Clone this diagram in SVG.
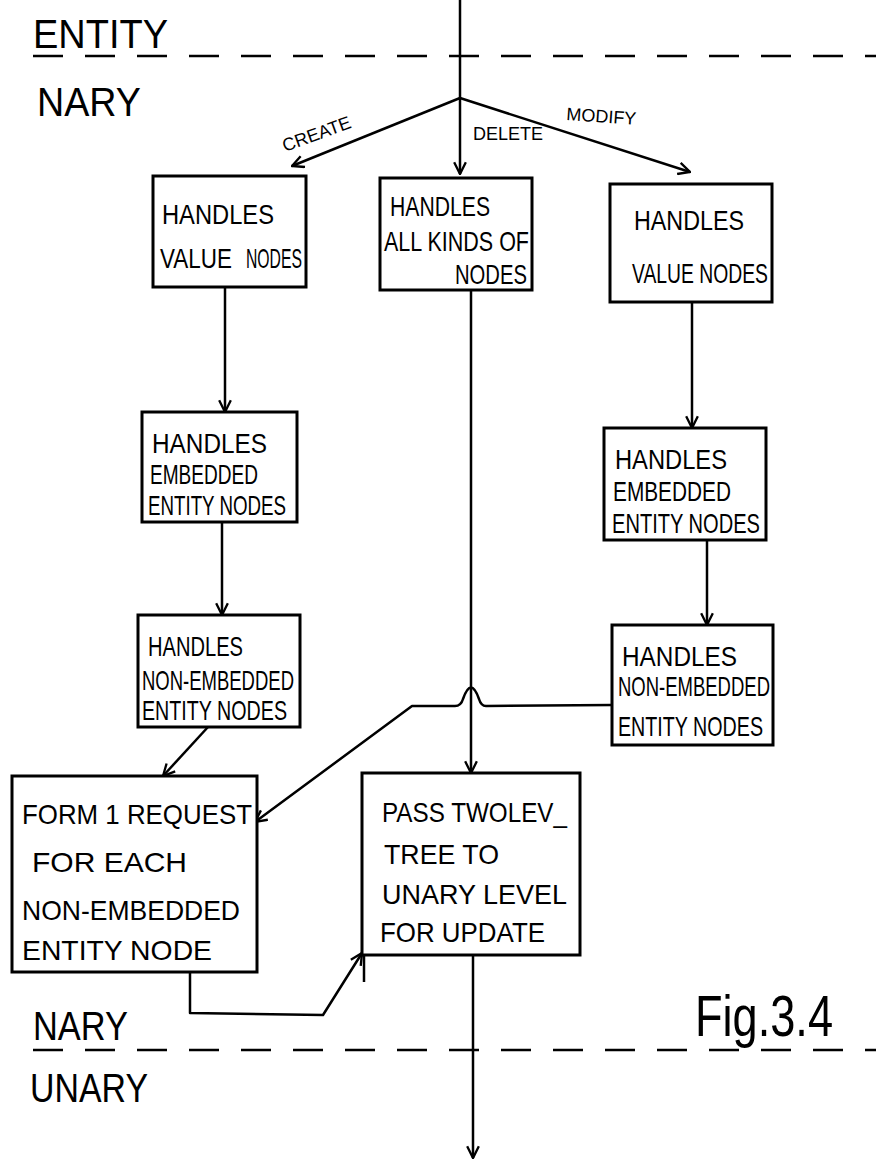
<svg xmlns="http://www.w3.org/2000/svg" width="876" height="1162" viewBox="0 0 876 1162">
<style>
.box{fill:#fff;stroke:#000;stroke-width:3}
.ln{fill:none;stroke:#000;stroke-width:2.5;stroke-linejoin:round}
.dash{fill:none;stroke:#000;stroke-width:2.5;stroke-dasharray:30 22}
.t{font-family:"Liberation Sans",Arial,sans-serif;font-size:28px;fill:#000}
.s{font-family:"Liberation Sans",Arial,sans-serif;font-size:18px;fill:#000}
.big{font-family:"Liberation Sans",Arial,sans-serif;font-size:40px;fill:#000}
</style>
<defs>
<marker id="ah" viewBox="0 0 12 12" refX="11" refY="6" markerWidth="14" markerHeight="14" markerUnits="userSpaceOnUse" orient="auto">
<path d="M1,1 L11,6 L1,11" fill="none" stroke="#000" stroke-width="2"/>
</marker>
</defs>
<g id="lanes">
<text class="big" x="33" y="48" textLength="135" lengthAdjust="spacingAndGlyphs">ENTITY</text>
<line class="dash" x1="33" y1="56" x2="876" y2="56"/>
<text class="big" x="37" y="116" textLength="104" lengthAdjust="spacingAndGlyphs">NARY</text>
<text class="big" x="33" y="1040" textLength="95" lengthAdjust="spacingAndGlyphs">NARY</text>
<line class="dash" x1="33" y1="1050" x2="876" y2="1050"/>
<text class="big" x="30" y="1102" textLength="118" lengthAdjust="spacingAndGlyphs">UNARY</text>
<text id="fig" x="695" y="1036" font-family="Liberation Sans, Arial, sans-serif" font-size="58" textLength="138" lengthAdjust="spacingAndGlyphs">Fig.3.4</text>
</g>
<g id="connectors">
<line class="ln" x1="460" y1="0" x2="460" y2="98"/>
<line class="ln" x1="460" y1="98" x2="292" y2="166" marker-end="url(#ah)"/>
<line class="ln" x1="460" y1="98" x2="460" y2="174" marker-end="url(#ah)"/>
<line class="ln" x1="460" y1="98" x2="690" y2="172" marker-end="url(#ah)"/>
<line class="ln" x1="225" y1="287" x2="225" y2="412" marker-end="url(#ah)"/>
<line class="ln" x1="692" y1="302" x2="692" y2="428" marker-end="url(#ah)"/>
<line class="ln" x1="222" y1="522" x2="222" y2="615" marker-end="url(#ah)"/>
<line class="ln" x1="707" y1="540" x2="707" y2="625" marker-end="url(#ah)"/>
<line class="ln" x1="471" y1="290" x2="471" y2="773" marker-end="url(#ah)"/>
<line class="ln" x1="208" y1="727" x2="163" y2="776" marker-end="url(#ah)"/>
<path class="ln" d="M612,705 L486,706 Q481,706 479,699 Q471,676 463,699 Q461,706 455,706 L412,706 L255,822" marker-end="url(#ah)"/>
<path class="ln" d="M190,972 L190,1013 L323,1015 L362,953" marker-end="url(#ah)"/>
<line class="ln" x1="364" y1="953" x2="364" y2="982"/>
<line class="ln" x1="473" y1="955" x2="473" y2="1158" marker-end="url(#ah)"/>
<text class="s" transform="translate(285,152) rotate(-20)">CREATE</text>
<text class="s" x="473" y="140">DELETE</text>
<text class="s" transform="translate(566,120) rotate(4)">MODIFY</text>
</g>
<g id="nodeA">
<rect class="box" x="153" y="176" width="153" height="111"/>
<text class="t" x="162" y="224" textLength="112" lengthAdjust="spacingAndGlyphs">HANDLES</text>
<text class="t" x="160" y="268" textLength="72" lengthAdjust="spacingAndGlyphs">VALUE</text>
<text class="t" x="246" y="268" font-size="21" textLength="56" lengthAdjust="spacingAndGlyphs">NODES</text>
</g>
<g id="nodeB">
<rect class="box" x="380" y="178" width="152" height="112"/>
<text class="t" x="390" y="216" textLength="100" lengthAdjust="spacingAndGlyphs">HANDLES</text>
<text class="t" x="384" y="251" textLength="145" lengthAdjust="spacingAndGlyphs">ALL KINDS OF</text>
<text class="t" x="455" y="284" textLength="72" lengthAdjust="spacingAndGlyphs">NODES</text>
</g>
<g id="nodeC">
<rect class="box" x="610" y="184" width="162" height="118"/>
<text class="t" x="634" y="230" textLength="110" lengthAdjust="spacingAndGlyphs">HANDLES</text>
<text class="t" x="632" y="283" textLength="136" lengthAdjust="spacingAndGlyphs">VALUE NODES</text>
</g>
<g id="nodeD">
<rect class="box" x="142" y="412" width="155" height="110"/>
<text class="t" x="152" y="453" textLength="115" lengthAdjust="spacingAndGlyphs">HANDLES</text>
<text class="t" x="150" y="484" textLength="108" lengthAdjust="spacingAndGlyphs" font-size="23">EMBEDDED</text>
<text class="t" x="148" y="515" textLength="138" lengthAdjust="spacingAndGlyphs">ENTITY NODES</text>
</g>
<g id="nodeE">
<rect class="box" x="604" y="428" width="162" height="112"/>
<text class="t" x="615" y="469" textLength="112" lengthAdjust="spacingAndGlyphs">HANDLES</text>
<text class="t" x="613" y="501" textLength="118" lengthAdjust="spacingAndGlyphs">EMBEDDED</text>
<text class="t" x="612" y="533" textLength="148" lengthAdjust="spacingAndGlyphs">ENTITY NODES</text>
</g>
<g id="nodeF">
<rect class="box" x="138" y="615" width="162" height="112"/>
<text class="t" x="148" y="656" textLength="95" lengthAdjust="spacingAndGlyphs">HANDLES</text>
<text class="t" x="142" y="690" textLength="152" lengthAdjust="spacingAndGlyphs" font-size="25">NON-EMBEDDED</text>
<text class="t" x="142" y="720" textLength="145" lengthAdjust="spacingAndGlyphs" font-size="25">ENTITY NODES</text>
</g>
<g id="nodeG">
<rect class="box" x="612" y="625" width="161" height="120"/>
<text class="t" x="622" y="666" textLength="115" lengthAdjust="spacingAndGlyphs">HANDLES</text>
<text class="t" x="618" y="696" textLength="152" lengthAdjust="spacingAndGlyphs" font-size="25">NON-EMBEDDED</text>
<text class="t" x="618" y="736" textLength="145" lengthAdjust="spacingAndGlyphs">ENTITY NODES</text>
</g>
<g id="nodeH">
<rect class="box" x="12" y="776" width="245" height="196"/>
<text class="t" x="22" y="824" textLength="230" lengthAdjust="spacingAndGlyphs">FORM 1 REQUEST</text>
<text class="t" x="32" y="872" textLength="155" lengthAdjust="spacingAndGlyphs">FOR EACH</text>
<text class="t" x="22" y="920" textLength="218" lengthAdjust="spacingAndGlyphs">NON-EMBEDDED</text>
<text class="t" x="22" y="960" textLength="190" lengthAdjust="spacingAndGlyphs">ENTITY NODE</text>
</g>
<g id="nodeI">
<rect class="box" x="362" y="773" width="218" height="182"/>
<text class="t" x="382" y="822" textLength="185" lengthAdjust="spacingAndGlyphs">PASS TWOLEV_</text>
<text class="t" x="384" y="864" textLength="115" lengthAdjust="spacingAndGlyphs">TREE TO</text>
<text class="t" x="382" y="904" textLength="185" lengthAdjust="spacingAndGlyphs">UNARY LEVEL</text>
<text class="t" x="380" y="942" textLength="165" lengthAdjust="spacingAndGlyphs">FOR UPDATE</text>
</g>
</svg>
